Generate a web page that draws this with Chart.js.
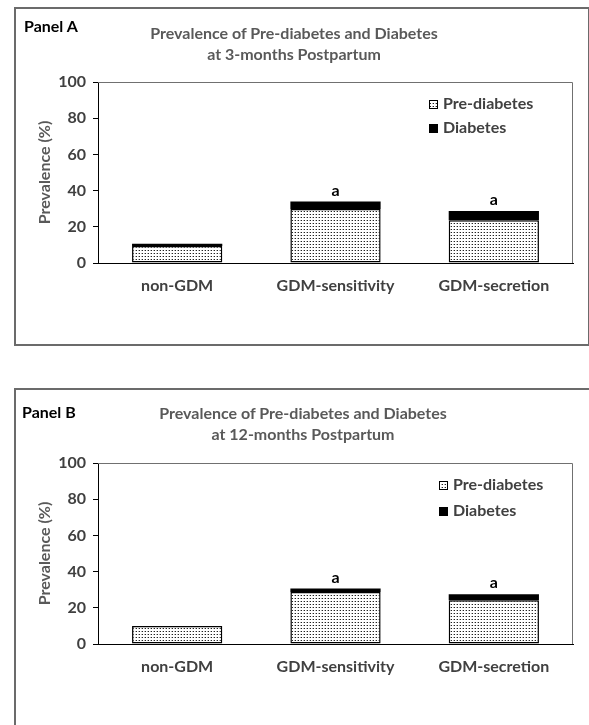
<!DOCTYPE html>
<html><head><meta charset="utf-8">
<script src="https://cdn.jsdelivr.net/npm/chart.js@4"></script>
<style>
body{margin:0;background:#fff;width:589px;height:725px;overflow:hidden;position:relative;font-family:Lato,sans-serif;}
.box{position:absolute;border:2px solid #6b6b6b;box-sizing:border-box;}
#boxA{left:14px;top:7px;width:576px;height:339px;}
#boxB{left:14px;top:388px;width:600px;height:400px;}
.panel{position:absolute;font-weight:bold;font-size:16px;color:#000;line-height:18px;white-space:nowrap;}
.title{position:absolute;font-weight:bold;font-size:16px;color:#595959;text-align:center;width:400px;line-height:21px;}
canvas{position:absolute;left:0;}
</style></head>
<body>
<div class="box" id="boxA"></div>
<div class="box" id="boxB"></div>
<canvas id="cA" width="589" height="344" style="top:0px"></canvas>
<canvas id="cB" width="589" height="344" style="top:381px"></canvas>
<div class="panel" style="left:24px;top:17px">Panel A</div>
<div class="title" style="left:94px;top:22px">Prevalence of Pre-diabetes and Diabetes<br>at 3-months Postpartum</div>
<div class="panel" style="left:22px;top:403px">Panel B</div>
<div class="title" style="left:103px;top:402px">Prevalence of Pre-diabetes and Diabetes<br>at 12-months Postpartum</div>
<script>
const categories = ['non-GDM', 'GDM-sensitivity', 'GDM-secretion'];
const seriesNames = ['Pre-diabetes', 'Diabetes'];
const preDiabetes3m = [9.4, 29.8, 23.6];
const diabetes3m = [1.3, 4.2, 5.1];
const preDiabetes12m = [10.0, 28.7, 24.2];
const diabetes12m = [0, 1.9, 3.3];
const significance3m = ['', 'a', 'a'];
const significance12m = ['', 'a', 'a'];
const yTicks = [0, 20, 40, 60, 80, 100];

const FONT = 'Lato';

function makePattern(ctx) {
  const c = document.createElement('canvas');
  c.width = 3; c.height = 3;
  const x = c.getContext('2d');
  x.fillStyle = '#fff'; x.fillRect(0, 0, 3, 3);
  x.fillStyle = '#b0b0b0'; x.fillRect(0, 1, 1, 1);
  x.fillStyle = '#222'; x.fillRect(1, 1, 1, 1);
  return ctx.createPattern(c, 'repeat');
}

const decor = {
  id: 'decor',
  afterDatasetsDraw(chart, args, opts) {
    const {ctx, chartArea: a} = chart;
    ctx.save();
    ctx.strokeStyle = '#707070'; ctx.lineWidth = 1;
    ctx.beginPath();
    ctx.moveTo(a.left, a.top + 0.5);
    ctx.lineTo(a.right - 0.5, a.top + 0.5);
    ctx.lineTo(a.right - 0.5, a.bottom);
    ctx.stroke();
    const meta = chart.getDatasetMeta(1);
    ctx.font = 'bold 16px ' + FONT;
    ctx.fillStyle = '#000'; ctx.textAlign = 'center'; ctx.textBaseline = 'bottom';
    opts.labels.forEach((t, i) => {
      if (!t) return;
      const bar = meta.data[i];
      ctx.fillText(t, bar.x, bar.y - opts.gap);
    });
    ctx.font = 'bold 16px ' + FONT;
    ctx.textAlign = 'left'; ctx.textBaseline = 'middle';
    chart.data.datasets.forEach((ds, i) => {
      const x = a.right - opts.legendRight;
      const y = a.top + opts.legendTop + i * opts.legendGap;
      ctx.fillStyle = ds.backgroundColor;
      ctx.fillRect(x, y - 4, 9, 9);
      ctx.strokeStyle = '#000'; ctx.lineWidth = 1;
      ctx.strokeRect(x + 0.5, y - 3.5, 8, 8);
      ctx.fillStyle = '#404040';
      ctx.fillText(ds.label, x + 14, y);
    });
    ctx.restore();
  }
};

function build(id, pre, dia, sig, legendRight, legendGap) {
  const ctx = document.getElementById(id).getContext('2d');
  const pattern = makePattern(ctx);
  const tickFont = {family: FONT, weight: 'bold', size: 16};
  return new Chart(ctx, {
    type: 'bar',
    data: {
      labels: categories,
      datasets: [
        {label: seriesNames[0], data: pre, backgroundColor: pattern, borderColor: '#000', borderWidth: 1.5, borderSkipped: false, barPercentage: 0.57, categoryPercentage: 1},
        {label: seriesNames[1], data: dia, backgroundColor: '#000', borderColor: '#000', borderWidth: 0, barPercentage: 0.57, categoryPercentage: 1}
      ]
    },
    options: {
      responsive: false, animation: false, events: [],
      layout: {padding: {left: 0, top: 82, right: 16, bottom: 0}},
      plugins: {
        legend: {display: false}, tooltip: {enabled: false}, title: {display: false},
        decor: {labels: sig, gap: 3, legendRight: legendRight, legendTop: 22, legendGap: legendGap}
      },
      scales: {
        x: {
          stacked: true,
          grid: {display: false, drawTicks: false},
          border: {display: true, color: '#000', width: 1},
          ticks: {font: tickFont, color: '#404040', padding: 13, maxRotation: 0},
          afterFit(s) { s.height = 81; }
        },
        y: {
          stacked: true, min: 0, max: 100,
          afterBuildTicks(s) { s.ticks = yTicks.map(v => ({value: v})); },
          grid: {drawOnChartArea: false, drawTicks: true, tickLength: 5, color: '#000'},
          border: {display: true, color: '#000', width: 1},
          ticks: {font: tickFont, color: '#404040', padding: 7},
          title: {display: true, text: 'Prevalence (%)', font: tickFont, color: '#595959', padding: {top: 35, bottom: 0}},
          afterFit(s) { s.width = 98; }
        }
      }
    },
    plugins: [decor]
  });
}

build('cA', preDiabetes3m, diabetes3m, significance3m, 144, 24);
build('cB', preDiabetes12m, diabetes12m, significance12m, 134, 26);
</script>
</body></html>
